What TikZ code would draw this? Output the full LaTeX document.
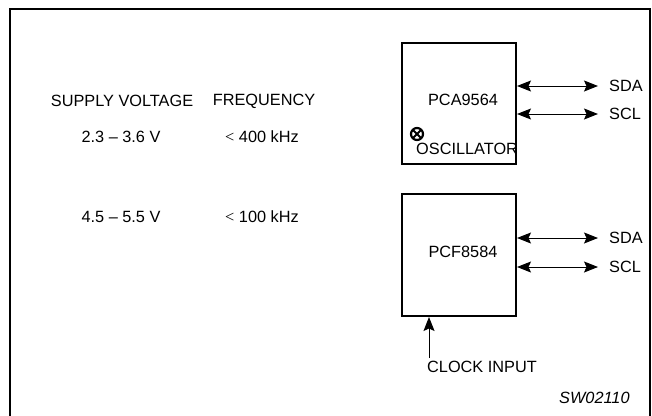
\documentclass[tikz,border=0pt]{standalone}
\usepackage{fontspec}
\setmainfont{Liberation Sans}
\newfontfamily\serifx{Liberation Serif}
\usetikzlibrary{arrows.meta,calc}
\begin{document}
\begin{tikzpicture}[x=1pt,y=-1pt,
  txt/.style={font=\fontsize{16.3}{19}\selectfont, inner sep=0pt},
  chip/.style={draw, line width=2pt, minimum width=114pt, minimum height=121pt, inner sep=0pt, anchor=north west},
  bus/.style={line width=1pt, {Stealth[length=14pt,width=11pt,inset=2.5pt]}-{Stealth[length=14pt,width=11pt,inset=2.5pt]}},
  clk/.style={line width=1pt, -{Stealth[length=14pt,width=11pt,inset=2.5pt]}}]
\useasboundingbox (0,0) rectangle (652,415);
\draw[line width=2pt] (10,416) -- (10,9) -- (650,9) -- (650,416);
% left table
\node[txt] (hv) at (122,101) {SUPPLY VOLTAGE};
\node[txt] (hf) at (264,101) {FREQUENCY};
\node[txt] (v1) at (121,137) {2.3 -- 3.6 V};
\node[txt] (f1) at (262,137) {{\serifx <} 400 kHz};
\node[txt] (v2) at (121,217) {4.5 -- 5.5 V};
\node[txt] (f2) at (262,217) {{\serifx <} 100 kHz};
% chips
\node[chip] (c1) at (401,42) {};
\node[txt] (n1) at (463,100) {PCA9564};
\node[chip, minimum height=122pt] (c2) at (401,193) {};
\node[txt] (n2) at (463,252) {PCF8584};
% oscillator
\coordinate (osc) at (417,134);
\draw[line width=2.2pt] (osc) circle (6pt);
\draw[line width=2pt] ($(osc)+(-4,-4)$) -- ($(osc)+(4,4)$) ($(osc)+(-4,4)$) -- ($(osc)+(4,-4)$);
\node[txt, anchor=west] (ot) at (416,149) {OSCILLATOR};
% buses
\coordinate (a1) at (598,86);
\coordinate (a2) at (598,114);
\coordinate (a3) at (598,238);
\coordinate (a4) at (598,267);
\draw[bus] (c1.east |- a1) -- (a1);
\draw[bus] (c1.east |- a2) -- (a2);
\draw[bus] (c2.east |- a3) -- (a3);
\draw[bus] (c2.east |- a4) -- (a4);
\node[txt, anchor=west] (s1) at (609,86) {SDA};
\node[txt, anchor=west] (s2) at (609,114) {SCL};
\node[txt, anchor=west] (s3) at (609,238) {SDA};
\node[txt, anchor=west] (s4) at (609,267) {SCL};
% clock input
\coordinate (ck) at (429,358);
\draw[clk] (ck) -- (ck |- c2.south);
\node[txt, anchor=west] (cl) at (427,367) {CLOCK INPUT};
\node[txt, anchor=west, font=\fontsize{16.3}{19}\selectfont\itshape] (sw) at (559,398) {SW02110};
\end{tikzpicture}
\end{document}
